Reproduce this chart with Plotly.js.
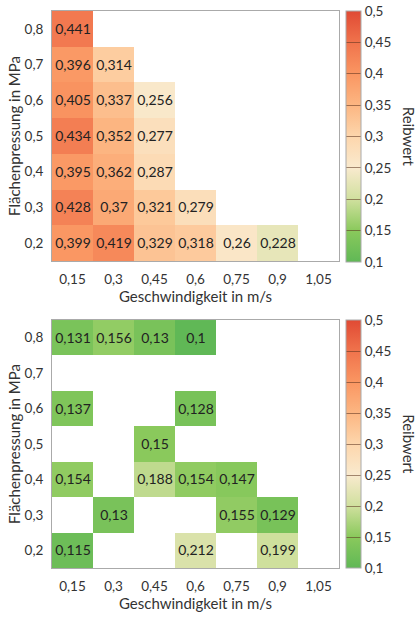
<!DOCTYPE html>
<html>
<head>
<meta charset="utf-8">
<script src="https://cdn.plot.ly/plotly-3.0.1.min.js"></script>
<style>html,body{margin:0;padding:0;background:#fff;}#chart{width:418px;height:617px;}</style>
</head>
<body>
<div id="chart"></div>
<script>
// Geschwindigkeit (m/s) – columns
const speeds = [0.15, 0.3, 0.45, 0.6, 0.75, 0.9, 1.05];
const speedLabels = ['0,15', '0,3', '0,45', '0,6', '0,75', '0,9', '1,05'];
// Flächenpressung (MPa) – rows
const pressures = [0.2, 0.3, 0.4, 0.5, 0.6, 0.7, 0.8];
const pressureLabels = ['0,2', '0,3', '0,4', '0,5', '0,6', '0,7', '0,8'];

// Upper chart: Reibwert (rows = pressures 0.2 ... 0.8)
const topP02 = [0.399, 0.419, 0.329, 0.318, 0.26, 0.228, null];
const topP03 = [0.428, 0.37, 0.321, 0.279, null, null, null];
const topP04 = [0.395, 0.362, 0.287, null, null, null, null];
const topP05 = [0.434, 0.352, 0.277, null, null, null, null];
const topP06 = [0.405, 0.337, 0.256, null, null, null, null];
const topP07 = [0.396, 0.314, null, null, null, null, null];
const topP08 = [0.441, null, null, null, null, null, null];

// Lower chart: Reibwert
const botP02 = [0.115, null, null, 0.212, null, 0.199, null];
const botP03 = [null, 0.13, null, null, 0.155, 0.129, null];
const botP04 = [0.154, null, 0.188, 0.154, 0.147, null, null];
const botP05 = [null, null, 0.15, null, null, null, null];
const botP06 = [0.137, null, null, 0.128, null, null, null];
const botP07 = [null, null, null, null, null, null, null];
const botP08 = [0.131, 0.156, 0.13, 0.1, null, null, null];

const colorbarTicks = [0.1, 0.15, 0.2, 0.25, 0.3, 0.35, 0.4, 0.45, 0.5];
const colorbarLabels = ['0,1', '0,15', '0,2', '0,25', '0,3', '0,35', '0,4', '0,45', '0,5'];

const FONT = 'Lato, "Open Sans", sans-serif';
const colorscale = [
  [0.0, 'rgb(96,184,86)'],
  [0.125, 'rgb(138,201,92)'],
  [0.25, 'rgb(208,224,158)'],
  [0.375, 'rgb(249,234,206)'],
  [0.5, 'rgb(253,214,172)'],
  [0.625, 'rgb(252,182,130)'],
  [0.75, 'rgb(250,150,98)'],
  [0.875, 'rgb(240,115,76)'],
  [1.0, 'rgb(224,74,52)']
];

function cb(yc, len) {
  return {
    x: 1.0228, xanchor: 'left', xpad: 0,
    y: yc, yanchor: 'middle', ypad: 0,
    len: len, lenmode: 'fraction',
    thickness: 15, thicknessmode: 'pixels',
    outlinewidth: 1, outlinecolor: '#aaa',
    tickmode: 'array', tickvals: colorbarTicks, ticktext: colorbarLabels,
    ticks: 'inside', ticklen: 15, tickwidth: 1, tickcolor: 'rgba(90,50,30,0.55)',
    tickfont: {family: FONT, size: 13.5, color: '#333'},
    title: {text: ''}
  };
}

const common = {
  type: 'heatmap', x: speeds, y: pressures,
  zmin: 0.1, zmax: 0.5, colorscale: colorscale,
  texttemplate: '%{z}', textfont: {family: FONT, size: 14, color: '#222'},
  hoverinfo: 'skip', xgap: 0, ygap: 0
};

const traceTop = Object.assign({}, common, {
  z: [topP02, topP03, topP04, topP05, topP06, topP07, topP08],
  xaxis: 'x', yaxis: 'y',
  colorbar: cb(0.7747, 0.4506)
});
const traceBot = Object.assign({}, common, {
  z: [botP02, botP03, botP04, botP05, botP06, botP07, botP08],
  xaxis: 'x2', yaxis: 'y2',
  colorbar: cb(0.2226, 0.4452)
});

function xax(anchor) {
  return {
    anchor: anchor, domain: [0, 1], range: [0.075, 1.125],
    tickmode: 'array', tickvals: speeds, ticktext: speedLabels,
    showgrid: false, zeroline: false,
    showline: true, mirror: true, linecolor: '#aaa', linewidth: 1,
    ticks: 'outside', ticklen: 6, tickcolor: 'rgba(0,0,0,0)',
    tickfont: {family: FONT, size: 13.5, color: '#333'},
    title: {text: 'Geschwindigkeit in m/s', font: {family: FONT, size: 15, color: '#333'}, standoff: 4}
  };
}
function yax(anchor, domain) {
  return {
    anchor: anchor, domain: domain, range: [0.15, 0.85],
    tickmode: 'array', tickvals: pressures, ticktext: pressureLabels,
    showgrid: false, zeroline: false,
    showline: true, mirror: true, linecolor: '#aaa', linewidth: 1,
    ticks: 'outside', ticklen: 5, tickcolor: 'rgba(0,0,0,0)',
    tickfont: {family: FONT, size: 13.5, color: '#333'},
    title: {text: 'Flächenpressung in MPa', font: {family: FONT, size: 15, color: '#333'}, standoff: 0}
  };
}

const cbTitleX = 1.243;
const layout = {
  width: 418, height: 617,
  margin: {l: 52, r: 72, t: 11, b: 49},
  separators: ',.',
  paper_bgcolor: '#fff', plot_bgcolor: '#fff',
  showlegend: false,
  xaxis: xax('y'), yaxis: yax('x', [0.5512, 1]),
  xaxis2: xax('y2'), yaxis2: yax('x2', [0, 0.4452]),
  font: {family: FONT, color: '#333'},
  annotations: [
    {text: 'Reibwert', xref: 'paper', yref: 'paper', x: cbTitleX, y: 0.7747, textangle: 90,
     showarrow: false, xanchor: 'center', yanchor: 'middle', font: {family: FONT, size: 15, color: '#333'}},
    {text: 'Reibwert', xref: 'paper', yref: 'paper', x: cbTitleX, y: 0.2226, textangle: 90,
     showarrow: false, xanchor: 'center', yanchor: 'middle', font: {family: FONT, size: 15, color: '#333'}}
  ]
};

Plotly.newPlot('chart', [traceTop, traceBot], layout, {displayModeBar: false, staticPlot: true});
</script>
</body>
</html>
